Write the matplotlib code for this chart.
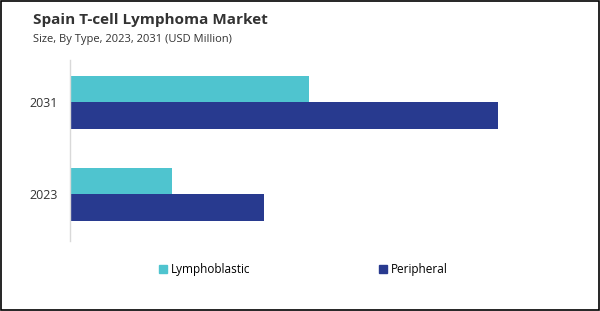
import matplotlib.pyplot as plt
from matplotlib.patches import Patch, Rectangle

# Dados do gráfico (valores estimados a partir da imagem)
anos = ["2023", "2031"]
tipos = ["Lymphoblastic", "Peripheral"]
lymphoblastic = [10.2, 23.9]
peripheral = [19.4, 42.8]

cores = {"Lymphoblastic": "#4FC4CF", "Peripheral": "#283A8F"}
fonte = ["Open Sans", "DejaVu Sans"]

fig = plt.figure(figsize=(6, 3.11), dpi=100)
ax = fig.add_axes([0.1167, 0.225, 0.8333, 0.582])

pos = list(range(len(anos)))
altura = 0.288
ax.barh([p + altura / 2 for p in pos], lymphoblastic, height=altura,
        color=cores["Lymphoblastic"])
ax.barh([p - altura / 2 for p in pos], peripheral, height=altura,
        color=cores["Peripheral"])

ax.set_xlim(0, 50)
ax.set_ylim(-0.511, 1.457)
ax.set_yticks(pos)
ax.set_yticklabels(anos, fontsize=9, color="#333333", family=fonte)
ax.tick_params(axis="y", length=0, pad=9)
ax.set_xticks([])
for lado in ["top", "right", "bottom"]:
    ax.spines[lado].set_visible(False)
ax.spines["left"].set_color("#D9D9D9")
ax.spines["left"].set_linewidth(1)

# Títulos
fig.text(0.055, 0.935, "Spain T-cell Lymphoma Market", fontsize=11,
         fontweight="bold", color="#333333", family=fonte, va="center")
fig.text(0.055, 0.873, "Size, By Type, 2023, 2031 (USD Million)", fontsize=8,
         color="#333333", family=fonte, va="center")

# Legenda
handles = [Patch(color=cores[t]) for t in tipos]
fig.legend(handles, tipos, loc="center", bbox_to_anchor=(0.505, 0.132), ncol=2,
           frameon=False, handlelength=0.7, handleheight=0.7, handletextpad=0.3,
           columnspacing=10.9, prop={"family": fonte, "size": 8.5})

# Moldura da imagem
fig.patches.append(Rectangle((0.001, 0.002), 0.997, 0.995, transform=fig.transFigure,
                             fill=False, edgecolor="black", linewidth=1.2))

plt.savefig("out.png", dpi=100)
